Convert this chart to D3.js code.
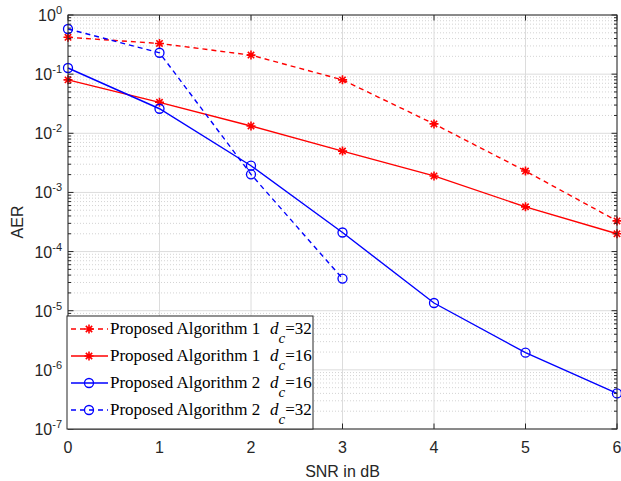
<!DOCTYPE html>
<html>
<head>
<meta charset="utf-8">
<script src="https://cdn.jsdelivr.net/npm/d3@7"></script>
<style>
  body { margin: 0; background: #fff; }
  .serif { font-family: "Liberation Serif", "Times New Roman", serif; }
  svg { font-family: "Liberation Sans", Arial, sans-serif; }
</style>
</head>
<body>
<div id="viz"></div>
<script>
const width = 621;
const height = 481;

// Data
const snr = [0, 1, 2, 3, 4, 5, 6];
const alg1dc32 = [0.42, 0.33, 0.21, 0.080, 0.0144, 0.0023, 0.00033];
const alg1dc16 = [0.080, 0.0334, 0.0133, 0.0050, 0.0019, 0.00057, 0.00020];
const alg2dc16 = [0.127, 0.026, 0.00283, 0.00021, 0.0000135, 0.00000195, 0.0000004];
const alg2dc32 = [0.58, 0.23, 0.00202, 0.000035];
const yTickExps = [0, -1, -2, -3, -4, -5, -6, -7];
const xTicks = [0, 1, 2, 3, 4, 5, 6];

const series = [
  {name: 'Proposed Algorithm 1', dc: '32', values: alg1dc32, color: '#ff0000', dash: '5,4', marker: 'star'},
  {name: 'Proposed Algorithm 1', dc: '16', values: alg1dc16, color: '#ff0000', dash: null, marker: 'star'},
  {name: 'Proposed Algorithm 2', dc: '16', values: alg2dc16, color: '#0000ff', dash: null, marker: 'circle'},
  {name: 'Proposed Algorithm 2', dc: '32', values: alg2dc32, color: '#0000ff', dash: '5,4', marker: 'circle'}
];

const axisColor = '#262626';

const xScale = d3.scaleLinear().domain([0, 6]).range([68, 617]);
const yScale = d3.scaleLog().domain([1e-7, 1]).range([429, 15]);

const svg = d3.select('#viz').append('svg')
  .attr('width', width)
  .attr('height', height);

const plotL = xScale(0), plotR = xScale(6), plotT = yScale(1), plotB = yScale(1e-7);

// Grid
const grid = svg.append('g').attr('class', 'grid');
const minorVals = [];
for (let e = -7; e < 0; e++) {
  for (let m = 2; m <= 9; m++) minorVals.push(m * Math.pow(10, e));
}
grid.selectAll('.minor-y')
  .data(minorVals)
  .join('line')
    .attr('x1', plotL).attr('x2', plotR)
    .attr('y1', d => yScale(d)).attr('y2', d => yScale(d))
    .attr('stroke', '#c8c8c8')
    .attr('stroke-width', 0.8)
    .attr('stroke-dasharray', '1,2');
grid.selectAll('.major-y')
  .data(yTickExps.map(e => Math.pow(10, e)))
  .join('line')
    .attr('x1', plotL).attr('x2', plotR)
    .attr('y1', d => yScale(d)).attr('y2', d => yScale(d))
    .attr('stroke', '#dcdcdc')
    .attr('stroke-width', 1);
grid.selectAll('.major-x')
  .data(xTicks)
  .join('line')
    .attr('x1', d => xScale(d)).attr('x2', d => xScale(d))
    .attr('y1', plotT).attr('y2', plotB)
    .attr('stroke', '#dcdcdc')
    .attr('stroke-width', 1);

// Lines
const line = d3.line()
  .x((d, i) => xScale(snr[i]))
  .y(d => yScale(d));

const starPath = r => {
  let p = '';
  for (let k = 0; k < 4; k++) {
    const a = k * Math.PI / 4;
    const dx = r * Math.cos(a), dy = r * Math.sin(a);
    p += `M${-dx},${-dy}L${dx},${dy}`;
  }
  return p;
};

function drawMarker(g, type, color, cx, cy) {
  if (type === 'star') {
    g.append('path')
      .attr('d', starPath(4.5))
      .attr('transform', `translate(${cx},${cy})`)
      .attr('stroke', color)
      .attr('stroke-width', 1.6)
      .attr('fill', 'none');
  } else {
    g.append('circle')
      .attr('cx', cx).attr('cy', cy).attr('r', 4.5)
      .attr('stroke', color)
      .attr('stroke-width', 1.3)
      .attr('fill', 'none');
  }
}

const linesG = svg.append('g').attr('class', 'lines');
series.forEach(s => {
  linesG.append('path')
    .attr('d', line(s.values))
    .attr('fill', 'none')
    .attr('stroke', s.color)
    .attr('stroke-width', 1.4)
    .attr('stroke-dasharray', s.dash);
  s.values.forEach((v, i) => drawMarker(linesG, s.marker, s.color, xScale(snr[i]), yScale(v)));
});

// Axes box and ticks
const axes = svg.append('g').attr('class', 'axes');
axes.append('rect')
  .attr('x', plotL).attr('y', plotT)
  .attr('width', plotR - plotL).attr('height', plotB - plotT)
  .attr('fill', 'none')
  .attr('stroke', axisColor)
  .attr('stroke-width', 1);

const majorY = yTickExps.map(e => Math.pow(10, e));
[[plotL, 1], [plotR, -1]].forEach(([xx, dir]) => {
  axes.selectAll(null).data(majorY).join('line')
    .attr('x1', xx).attr('x2', xx + dir * 5.5)
    .attr('y1', d => yScale(d)).attr('y2', d => yScale(d))
    .attr('stroke', axisColor);
  axes.selectAll(null).data(minorVals).join('line')
    .attr('x1', xx).attr('x2', xx + dir * 3)
    .attr('y1', d => yScale(d)).attr('y2', d => yScale(d))
    .attr('stroke', axisColor);
});
[[plotB, -1], [plotT, 1]].forEach(([yy, dir]) => {
  axes.selectAll(null).data(xTicks).join('line')
    .attr('x1', d => xScale(d)).attr('x2', d => xScale(d))
    .attr('y1', yy).attr('y2', yy + dir * 5.5)
    .attr('stroke', axisColor);
});

// Tick labels
const yLabels = svg.append('g').attr('class', 'y-labels');
yTickExps.forEach(e => {
  const t = yLabels.append('text')
    .attr('x', plotL - 6)
    .attr('y', yScale(Math.pow(10, e)) + 6)
    .attr('text-anchor', 'end')
    .attr('fill', axisColor)
    .style('font-size', '16px');
  t.append('tspan').text('10');
  t.append('tspan').attr('dy', -7).style('font-size', '11px').text(e);
});

svg.append('g').selectAll('text')
  .data(xTicks)
  .join('text')
    .attr('x', d => xScale(d))
    .attr('y', plotB + 24)
    .attr('text-anchor', 'middle')
    .attr('fill', axisColor)
    .style('font-size', '16px')
    .text(d => d);

svg.append('text')
  .attr('x', (plotL + plotR) / 2)
  .attr('y', 477)
  .attr('text-anchor', 'middle')
  .attr('fill', axisColor)
  .style('font-size', '16px')
  .text('SNR in dB');

svg.append('text')
  .attr('transform', `translate(23, ${(plotT + plotB) / 2}) rotate(-90)`)
  .attr('text-anchor', 'middle')
  .attr('fill', axisColor)
  .style('font-size', '16px')
  .text('AER');

// Legend
const legend = svg.append('g').attr('class', 'legend');
const legX = 67, legY = 316, legW = 246, legH = 113, rowH = 27;
legend.append('rect')
  .attr('x', legX).attr('y', legY)
  .attr('width', legW).attr('height', legH)
  .attr('fill', '#fff')
  .attr('stroke', axisColor)
  .attr('stroke-width', 1);
series.forEach((s, i) => {
  const cy = legY + 13 + i * rowH;
  legend.append('line')
    .attr('x1', 71).attr('x2', 108)
    .attr('y1', cy).attr('y2', cy)
    .attr('stroke', s.color)
    .attr('stroke-width', 1.4)
    .attr('stroke-dasharray', s.dash);
  drawMarker(legend, s.marker, s.color, 89, cy);
  const t = legend.append('text')
    .attr('class', 'serif')
    .attr('x', 110)
    .attr('y', cy + 5)
    .attr('fill', '#000')
    .style('font-size', '17px');
  t.append('tspan').text(s.name);
  t.append('tspan').attr('x', 270).style('font-style', 'italic').text('d');
  t.append('tspan').attr('dy', 9).style('font-style', 'italic').style('font-size', '15px').text('c');
  t.append('tspan').attr('dy', -9).text('=' + s.dc);
});
</script>
</body>
</html>
